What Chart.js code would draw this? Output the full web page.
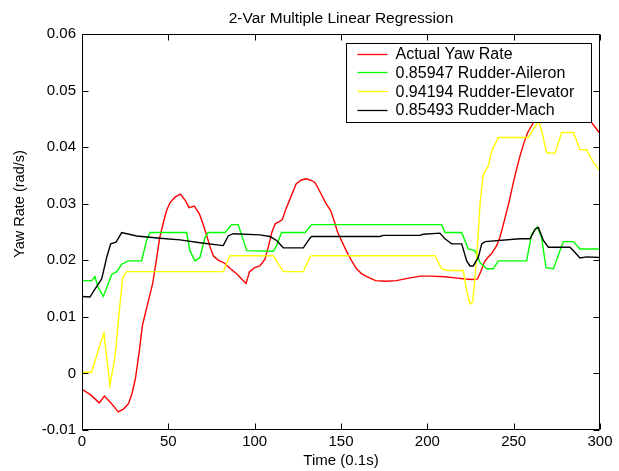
<!DOCTYPE html>
<html><head><meta charset="utf-8">
<script src="https://cdn.jsdelivr.net/npm/chart.js@4.4.0/dist/chart.umd.min.js"></script>
<style>html,body{margin:0;padding:0;background:#fff;} #wrap{width:619px;height:471px;}</style>
</head><body><div id="wrap"><canvas id="c" width="619" height="471"></canvas></div>
<script>
const chartTitle = '2-Var Multiple Linear Regression';
const xAxisTitle = 'Time (0.1s)';
const yAxisTitle = 'Yaw Rate (rad/s)';
const xTickValues = [0, 50, 100, 150, 200, 250, 300];
const xTickLabels = ['0', '50', '100', '150', '200', '250', '300'];
const yTickValues = [-0.01, 0, 0.01, 0.02, 0.03, 0.04, 0.05, 0.06];
const yTickLabels = ['-0.01', '0', '0.01', '0.02', '0.03', '0.04', '0.05', '0.06'];
const seriesNames = ['Actual Yaw Rate', '0.85947 Rudder-Aileron', '0.94194 Rudder-Elevator', '0.85493 Rudder-Mach'];
const seriesColors = ['#ff0000', '#00ff00', '#ffff00', '#000000'];

const actualT = [0,5,10,13,17,21,24,27,29,31,33,35,37,39,41,43,45,47,49,51,54,57,60,62,65,68,70,72,74,76,79,82,86,90,93,95,97,100,103,106,108,110,112,114,116,118,120,122,124,127,130,133,135,137,139,141,144,146,148,151,153,156,159,162,165,170,176,182,190,196,202,210,216,222,226,229,231,233,235,237,240,242,245,247,250,252,254,256,258,260,262,265,270,278,285,291,295,298,300];
const actualV = [-0.0028,-0.0038,-0.0052,-0.0040,-0.0053,-0.0068,-0.0063,-0.0053,-0.0035,-0.0008,0.0035,0.0085,0.0110,0.0135,0.0160,0.0199,0.0240,0.0265,0.0288,0.0302,0.0312,0.0317,0.0305,0.0293,0.0296,0.0282,0.0265,0.0246,0.0225,0.0208,0.0200,0.0196,0.0185,0.0175,0.0165,0.0159,0.0180,0.0187,0.0190,0.0202,0.0225,0.0250,0.0265,0.0268,0.0272,0.0290,0.0305,0.0320,0.0335,0.0342,0.0344,0.0341,0.0337,0.0326,0.0314,0.0302,0.0288,0.0270,0.0250,0.0230,0.0217,0.0200,0.0185,0.0176,0.0171,0.0164,0.0163,0.0164,0.0169,0.0172,0.0172,0.0171,0.0169,0.0167,0.0166,0.0167,0.0180,0.0197,0.0205,0.0211,0.0225,0.0240,0.0275,0.0299,0.0340,0.0365,0.0388,0.0408,0.0425,0.0436,0.0446,0.0458,0.0470,0.0475,0.0468,0.0452,0.0444,0.0432,0.0424];

const aileronT = [0,5.6,7.5,9.4,12.3,15.2,17.2,20.1,23,26.8,34.5,37.4,39.4,60.6,62.5,65.4,68.3,71.2,73.1,82.8,86.7,90.5,95.4,110.8,112.7,115.6,129.1,133,208.3,210.2,219.9,223.7,227.6,230.5,234.4,238.2,241.1,257.5,260.4,263.7,266.2,268.7,273,276.8,278.8,284.6,288.4,300];
const aileronV = [0.0164,0.0164,0.0171,0.0152,0.0136,0.0158,0.0175,0.0180,0.0193,0.0199,0.0199,0.0235,0.0249,0.0249,0.0217,0.0199,0.0205,0.0240,0.0249,0.0249,0.0263,0.0263,0.0217,0.0216,0.0226,0.0249,0.0249,0.0263,0.0263,0.0249,0.0249,0.0220,0.0217,0.0196,0.0185,0.0185,0.0199,0.0199,0.0246,0.0259,0.0240,0.0187,0.0185,0.0217,0.0233,0.0233,0.0220,0.0220];

const elevatorT = [0,5.6,9.4,12.7,14.3,16.2,19.1,21.6,23.6,25.9,81.8,85.7,110.8,113.7,116.6,128.2,132,133,204.4,208.3,211.2,220.8,222.8,224.7,226.3,228.6,230.5,232.4,235.3,237.3,241.1,258.5,261.4,264.5,266.2,269.1,273.9,277.8,284.6,288.4,292.3,296.1,300];
const elevatorV = [0.0002,0.0002,0.0041,0.0071,0.0029,-0.0021,0.0029,0.0111,0.0170,0.0180,0.0180,0.0208,0.0208,0.0193,0.0180,0.0180,0.0206,0.0208,0.0208,0.0185,0.0182,0.0182,0.0146,0.0123,0.0126,0.0205,0.0299,0.0352,0.0367,0.0393,0.0417,0.0417,0.0432,0.0446,0.0429,0.0390,0.0389,0.0426,0.0426,0.0396,0.0395,0.0373,0.0358];

const machT = [0,4.6,7.5,11.4,14.3,16.6,19.7,23,31.7,45.2,56.8,68.3,81.8,84.7,87.6,103,108.9,112.7,116.6,128.2,132,133,172.6,174.5,195.7,197.7,207.3,210.2,214.1,219.9,222.8,224.7,226.6,229.5,231.5,233.4,253.7,259.5,262.4,264.3,267.2,270.1,282.6,284.6,288.4,292.3,300];
const machV = [0.0136,0.0135,0.0149,0.0167,0.0205,0.0229,0.0232,0.0249,0.0243,0.0239,0.0236,0.0231,0.0226,0.0243,0.0247,0.0245,0.0242,0.0235,0.0222,0.0222,0.0239,0.0242,0.0242,0.0244,0.0244,0.0246,0.0248,0.0238,0.0229,0.0229,0.0199,0.0190,0.0190,0.0205,0.0229,0.0233,0.0238,0.0238,0.0255,0.0258,0.0235,0.0223,0.0223,0.0217,0.0204,0.0206,0.0205];

const seriesT = [actualT, aileronT, elevatorT, machT];
const seriesV = [actualV, aileronV, elevatorV, machV];

const FONT = "'Liberation Sans', Arial, Helvetica, sans-serif";

const framePlugin = {
  id: 'matlabFrame',
  afterDatasetsDraw(chart) {
    const ctx = chart.ctx, a = chart.chartArea;
    const xs = chart.scales.x, ys = chart.scales.y;
    const L = Math.round(a.left) + 0.5, R = Math.round(a.right) - 0.5;
    const T = Math.round(a.top) + 0.5, B = Math.round(a.bottom) - 0.5;
    const tl = 6;
    ctx.save();
    ctx.strokeStyle = '#000';
    ctx.lineWidth = 1;
    ctx.beginPath();
    ctx.rect(L, T, R - L, B - T);
    xTickValues.forEach(v => {
      const px = Math.round(xs.getPixelForValue(v)) + 0.5;
      ctx.moveTo(px, B); ctx.lineTo(px, B - tl);
      ctx.moveTo(px, T); ctx.lineTo(px, T + tl);
    });
    yTickValues.forEach(v => {
      const py = Math.round(ys.getPixelForValue(v)) + 0.5;
      ctx.moveTo(L, py); ctx.lineTo(L + tl, py);
      ctx.moveTo(R, py); ctx.lineTo(R - tl, py);
    });
    ctx.stroke();

    // y axis title
    ctx.fillStyle = '#000';
    ctx.font = '14.5px ' + FONT;
    ctx.textAlign = 'center';
    ctx.textBaseline = 'middle';
    ctx.translate(20, 204);
    ctx.rotate(-Math.PI / 2);
    ctx.fillText(yAxisTitle, 0, 0);
    ctx.restore();

    // legend (opaque box over the lines)
    ctx.save();
    ctx.font = '16px ' + FONT;
    const ds = chart.data.datasets;
    let maxW = 0;
    ds.forEach(d => { maxW = Math.max(maxW, ctx.measureText(d.label).width); });
    const right = Math.round(a.right) - 8.5;
    const top = Math.round(a.top) + 9.5;
    const w = 49 + maxW + 18;
    const h = 79;
    const left = Math.round(right - w) + 0.5;
    ctx.fillStyle = '#fff';
    ctx.fillRect(left, top, right - left, h);
    ctx.strokeStyle = '#000';
    ctx.lineWidth = 1;
    ctx.strokeRect(left, top, right - left, h);
    ctx.textAlign = 'left';
    ctx.textBaseline = 'middle';
    ds.forEach((d, i) => {
      const cy = top + 10 + i * 18.8;
      ctx.strokeStyle = d.borderColor;
      ctx.lineWidth = 1.3;
      ctx.beginPath();
      ctx.moveTo(left + 11, Math.round(cy) + 0.5);
      ctx.lineTo(left + 41, Math.round(cy) + 0.5);
      ctx.stroke();
      ctx.fillStyle = '#000';
      ctx.fillText(d.label, left + 49, cy + 1);
    });
    ctx.restore();
  }
};

const datasets = seriesNames.map((name, i) => ({
  label: name,
  data: seriesT[i].map((t, j) => ({ x: t, y: seriesV[i][j] })),
  borderColor: seriesColors[i],
  backgroundColor: seriesColors[i],
  borderWidth: 1.4,
  pointRadius: 0,
  tension: 0,
  fill: false,
  order: 4 - i
}));

new Chart(document.getElementById('c'), {
  type: 'line',
  data: { datasets },
  options: {
    responsive: false,
    devicePixelRatio: 1,
    animation: false,
    events: [],
    layout: { padding: { left: 0, right: 19, top: 0, bottom: 0 } },
    plugins: {
      legend: { display: false },
      tooltip: { enabled: false },
      title: {
        display: true,
        text: chartTitle,
        fullSize: false,
        color: '#000',
        font: { family: FONT, size: 15.5, weight: 'normal', lineHeight: 1.2 },
        padding: { top: 9, bottom: 6.4 }
      }
    },
    scales: {
      x: {
        type: 'linear',
        min: 0, max: 300,
        grid: { display: false, drawTicks: false, tickLength: 0 },
        border: { display: false },
        afterBuildTicks: s => { s.ticks = xTickValues.map(v => ({ value: v })); },
        afterFit: s => { s.height = 41; },
        ticks: {
          color: '#000',
          font: { family: FONT, size: 15, lineHeight: 1.2 },
          padding: 3,
          maxRotation: 0,
          autoSkip: false,
          callback: (v, i) => xTickLabels[i]
        },
        title: {
          display: true,
          text: xAxisTitle,
          color: '#000',
          font: { family: FONT, size: 15, lineHeight: 1.2 },
          padding: { top: 0, bottom: 1 }
        }
      },
      y: {
        type: 'linear',
        min: -0.01, max: 0.06,
        grid: { display: false, drawTicks: false, tickLength: 0 },
        border: { display: false },
        afterBuildTicks: s => { s.ticks = yTickValues.map(v => ({ value: v })); },
        afterFit: s => { s.width = 82; },
        ticks: {
          color: '#000',
          font: { family: FONT, size: 15, lineHeight: 1.2 },
          padding: 6,
          autoSkip: false,
          callback: (v, i) => yTickLabels[i]
        },
        title: { display: false, text: yAxisTitle }
      }
    }
  },
  plugins: [framePlugin]
});
</script>
</body></html>
